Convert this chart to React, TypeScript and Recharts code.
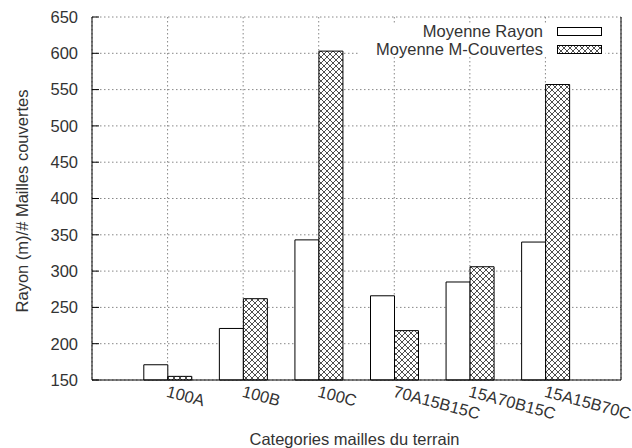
import React from 'react';
import { BarChart, Bar, XAxis, YAxis, CartesianGrid, Legend, Label } from 'recharts';

const categories = ['100A', '100B', '100C', '70A15B15C', '15A70B15C', '15A15B70C'];
const moyenneRayon = [171, 221, 343, 266, 285, 340];
const moyenneMCouvertes = [155, 262, 603, 218, 306, 557];
const yTicks = [150, 200, 250, 300, 350, 400, 450, 500, 550, 600, 650];
const seriesNames = ['Moyenne Rayon', 'Moyenne M-Couvertes'];
const xTitle = 'Categories mailles du terrain';
const yTitle = 'Rayon (m)/# Mailles couvertes';

const data = categories.map((c, i) => ({
  cat: c,
  rayon: moyenneRayon[i],
  couv: moyenneMCouvertes[i],
}));

const FONT = '"Liberation Sans", Arial, Helvetica, sans-serif';
const W = 632;
const H = 448;
const TXT = '#333';

const HatchPattern = ({ id }: { id: string }) => (
  <pattern id={id} patternUnits="userSpaceOnUse" width={6} height={6}>
    <rect x={0} y={0} width={6} height={6} fill="#fff" />
    <path d="M0,0 L6,6 M6,0 L0,6 M-1,5 L1,7 M5,-1 L7,1" stroke="#222" strokeWidth={0.8} fill="none" />
  </pattern>
);

const XTick = (props: any) => {
  const { x, y, payload } = props;
  const tx = x - 2;
  const ty = y + 16.5;
  return (
    <text
      x={tx}
      y={ty}
      transform={`rotate(15 ${tx} ${ty})`}
      textAnchor="start"
      fontFamily={FONT}
      fontSize={16.5}
      fill={TXT}
    >
      {payload.value}
    </text>
  );
};

const LegendContent = () => (
  <svg width={W} height={H} style={{ position: 'absolute', left: 0, top: 0, pointerEvents: 'none' }}>
    <defs>
      <HatchPattern id="hatchLegend" />
    </defs>
    <rect x={360} y={24} width={245} height={33} fill="#fff" />
    {seriesNames.map((name, i) => {
      const base = 37 + i * 18;
      return (
        <g key={name}>
          <text x={543} y={base} textAnchor="end" fontFamily={FONT} fontSize={16.5} fill={TXT}>
            {name}
          </text>
          <rect
            x={557.5}
            y={base - 9.5}
            width={44}
            height={8}
            fill={i === 0 ? '#fff' : 'url(#hatchLegend)'}
            stroke="#000"
            strokeWidth={1}
          />
        </g>
      );
    })}
  </svg>
);

const YTitle = (props: any) => {
  const vb = props.viewBox || { x: 0, y: 17, width: 92, height: 363 };
  const cx = 22;
  const cy = vb.y + vb.height / 2 + 2.5;
  return (
    <text
      x={cx}
      y={cy}
      transform={`rotate(-90 ${cx} ${cy})`}
      textAnchor="middle"
      dominantBaseline="central"
      fontFamily={FONT}
      fontSize={16.5}
      fill={TXT}
    >
      {yTitle}
    </text>
  );
};

const XTitle = (props: any) => {
  const vb = props.viewBox || { x: 92, y: 380, width: 529, height: 68 };
  return (
    <text
      x={vb.x + vb.width / 2 - 2}
      y={vb.y + 65}
      textAnchor="middle"
      fontFamily={FONT}
      fontSize={16.5}
      fill={TXT}
    >
      {xTitle}
    </text>
  );
};

export default function App() {
  return (
    <div style={{ position: 'absolute', left: 0, top: 0, width: W, height: H, background: '#fff' }}>
      <BarChart
        width={W}
        height={H}
        data={data}
        margin={{ top: 17, right: 0, bottom: 0, left: 0 }}
        barGap={0}
        barSize={24}
      >
        <defs>
          <HatchPattern id="hatchBar" />
        </defs>
        <CartesianGrid
          stroke="#888"
          strokeWidth={1}
          strokeDasharray="1.5 2.5"
          horizontal={true}
          vertical={true}
        />
        <XAxis
          dataKey="cat"
          height={68}
          padding={{ left: 37.8, right: 37.8 }}
          axisLine={{ stroke: '#000' }}
          tickLine={false}
          tickSize={0}
          tickMargin={0}
          tick={<XTick />}
          interval={0}
        >
          <Label content={<XTitle />} />
        </XAxis>
        <XAxis
          dataKey="cat"
          xAxisId="top"
          orientation="top"
          height={0}
          padding={{ left: 37.8, right: 37.8 }}
          axisLine={{ stroke: '#000' }}
          tickLine={{ stroke: '#000' }}
          tickSize={-5}
          tick={false}
          interval={0}
        />
        <YAxis
          width={92}
          domain={[150, 650]}
          ticks={yTicks}
          interval={0}
          axisLine={{ stroke: '#000' }}
          tickLine={{ stroke: '#000' }}
          tickSize={-7}
          tickMargin={21}
          tick={{ fill: TXT, fontSize: 16.5, fontFamily: FONT }}
        >
          <Label content={<YTitle />} />
        </YAxis>
        <YAxis
          yAxisId="r"
          orientation="right"
          width={11}
          domain={[150, 650]}
          ticks={yTicks}
          interval={0}
          axisLine={{ stroke: '#000' }}
          tickLine={{ stroke: '#000' }}
          tickSize={-7}
          tick={false}
        />
        <Legend
          layout="horizontal"
          verticalAlign="middle"
          align="center"
          content={<LegendContent />}
          wrapperStyle={{ position: 'absolute', left: 0, top: 0, width: W, height: H, pointerEvents: 'none' }}
        />
        <Bar
          dataKey="rayon"
          name={seriesNames[0]}
          fill="#fff"
          stroke="#000"
          strokeWidth={1}
          isAnimationActive={false}
        />
        <Bar
          dataKey="couv"
          name={seriesNames[1]}
          fill="url(#hatchBar)"
          stroke="#000"
          strokeWidth={1}
          isAnimationActive={false}
        />
      </BarChart>
    </div>
  );
}
